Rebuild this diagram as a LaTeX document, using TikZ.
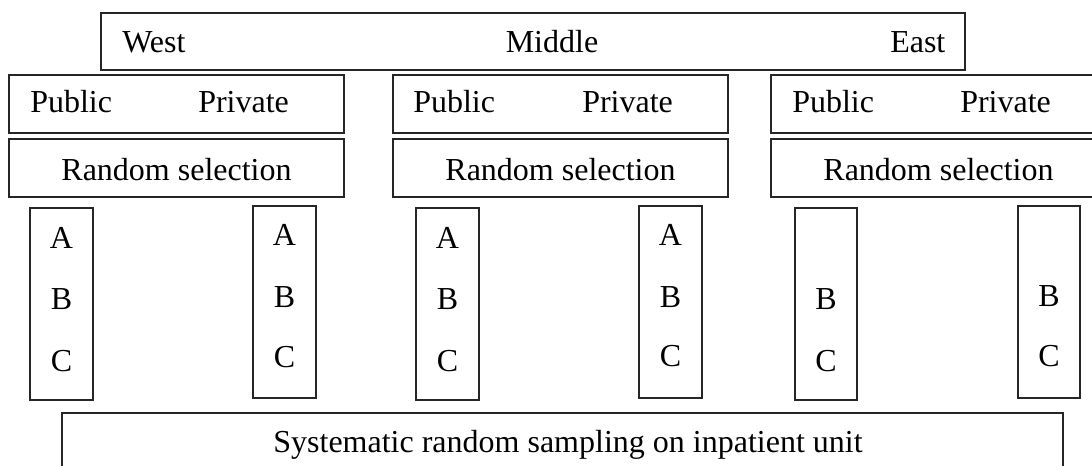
\documentclass[tikz,border=0pt]{standalone}
\usepackage{fontspec}
\setmainfont{Liberation Serif}
\usetikzlibrary{fit}

\tikzset{
  box/.style={draw=black!85, line width=1pt, inner sep=0pt, rectangle},
  selbox/.style={box, line width=2pt},
  lbl/.style={inner sep=0pt, font=\fontsize{24}{28}\selectfont},
}

\begin{document}
\begin{tikzpicture}[x=0.75pt, y=-0.75pt]
  \useasboundingbox (0,0) rectangle (1092,466);
  \clip (0,0) rectangle (1092,466);

  % regions
  \node[box, fit={(101,13) (965,70)}] (region) {};
  \node[lbl, anchor=base west] (west) at (122,53) {West};
  \node[lbl, anchor=base] (middle) at (552,53) {Middle};
  \node[lbl, anchor=base west] (east) at (890,53) {East};

  % sectors per region
  \foreach \i/\xa/\xb/\pu/\pr in {1/9/344/30/198, 2/393/728/413/582, 3/771/1106/792/960} {
    \node[box, fit={(\xa,75) (\xb,133)}] (sector\i) {};
    \node[lbl, anchor=base west] (public\i) at (\pu,113) {Public};
    \node[lbl, anchor=base west] (private\i) at (\pr,113) {Private};
    \node[selbox, fit={(\xa,139) (\xb,197)}] (random\i) {};
    \node[lbl, anchor=base] (randomtxt\i) at ({(\xa+\xb)/2},181) {Random selection};
  }

  % hospital groups with three levels
  \foreach \i/\xa/\xb/\ya/\yb/\ba/\bb/\bc in {
      1/30/93/208/400/249/310/372,
      2/253/316/206/398/246/308/368,
      3/416/479/208/400/249/310/372,
      4/639/702/206/398/246/308/367} {
    \node[box, fit={(\xa,\ya) (\xb,\yb)}] (group\i) {};
    \node[lbl, anchor=base] (a\i) at ({(\xa+\xb)/2},\ba) {A};
    \node[lbl, anchor=base] (b\i) at ({(\xa+\xb)/2},\bb) {B};
    \node[lbl, anchor=base] (c\i) at ({(\xa+\xb)/2},\bc) {C};
  }

  % hospital groups with two levels
  \foreach \i/\xa/\xb/\ya/\yb/\bb/\bc in {
      5/795/857/208/400/310/372,
      6/1018/1080/206/398/307/367} {
    \node[box, fit={(\xa,\ya) (\xb,\yb)}] (group\i) {};
    \node[lbl, anchor=base] (b\i) at ({(\xa+\xb)/2},\bb) {B};
    \node[lbl, anchor=base] (c\i) at ({(\xa+\xb)/2},\bc) {C};
  }

  % sampling stage
  \node[box, fit={(62,413) (1063,520)}] (sampling) {};
  \node[lbl, anchor=base] (samplingtxt) at (568,452) {Systematic random sampling on inpatient unit};
\end{tikzpicture}
\end{document}
